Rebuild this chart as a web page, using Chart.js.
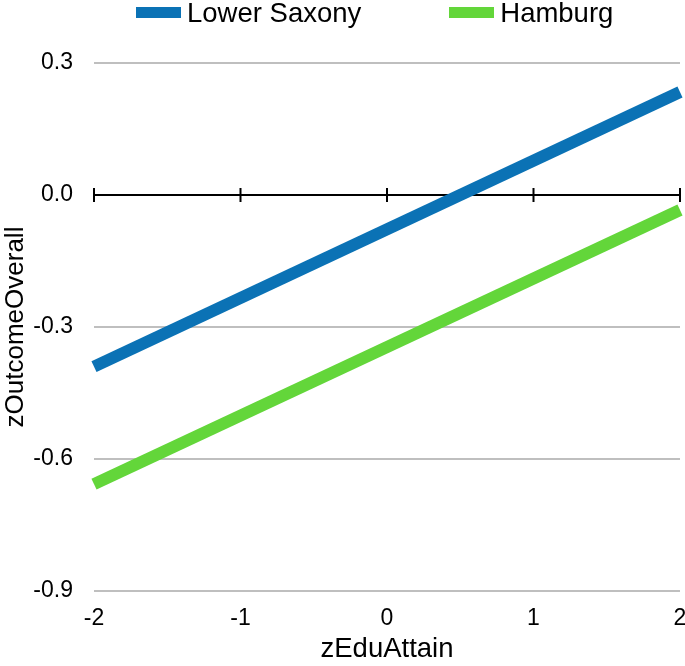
<!DOCTYPE html>
<html>
<head>
<meta charset="utf-8">
<script src="https://cdn.jsdelivr.net/npm/chart.js@4.4.0/dist/chart.umd.min.js"></script>
<style>
  body { margin: 0; background: #fff; font-family: "Liberation Sans", Arial, sans-serif; }
  #wrap { position: relative; width: 685px; height: 666px; }
  #legend { position: absolute; top: 0; left: 0; width: 685px; height: 25px; display: flex; align-items: center; padding-left: 136px; box-sizing: border-box; }
  .item { display: flex; align-items: center; font-size: 27.5px; color: #000; }
  .item + .item { margin-left: 88px; }
  .swatch { width: 45px; height: 11px; margin-right: 6px; }
  canvas { position: absolute; top: 0; left: 0; }
</style>
</head>
<body>
<div id="wrap">
  <canvas id="chart" width="685" height="666"></canvas>
  <div id="legend"></div>
</div>
<script>
// data
const xValues = [-2, 2];
const lowerSaxony = [-0.39, 0.234];
const hamburg = [-0.657, -0.034];
const seriesNames = ['Lower Saxony', 'Hamburg'];
const seriesColors = ['#0B72B5', '#63D63A'];
const yTicks = [-0.9, -0.6, -0.3, 0.0, 0.3];
const xTicks = [-2, -1, 0, 1, 2];

const seriesValues = [lowerSaxony, hamburg];

// html legend (keeps the swatch/text spacing of the original)
const legendEl = document.getElementById('legend');
seriesNames.forEach((name, i) => {
    const item = document.createElement('div');
    item.className = 'item';
    item.innerHTML = `<span class="swatch" style="background:${seriesColors[i]}"></span><span>${name}</span>`;
    legendEl.appendChild(item);
});

// black axis at y=0 with crossing tick marks
const zeroAxis = {
    id: 'zeroAxis',
    beforeDatasetsDraw(chart) {
        const { ctx, scales: { x, y } } = chart;
        const y0 = y.getPixelForValue(0);
        ctx.save();
        ctx.strokeStyle = '#000';
        ctx.lineWidth = 2;
        ctx.beginPath();
        ctx.moveTo(x.left, y0);
        ctx.lineTo(x.right, y0);
        xTicks.forEach(v => {
            const px = x.getPixelForValue(v);
            ctx.moveTo(px, y0 - 7);
            ctx.lineTo(px, y0 + 7);
        });
        ctx.stroke();
        ctx.restore();
    }
};

Chart.defaults.font.family = '"Liberation Sans", Arial, sans-serif';
Chart.defaults.color = '#000';

new Chart(document.getElementById('chart'), {
    type: 'line',
    data: {
        datasets: seriesNames.map((name, i) => ({
            label: name,
            data: xValues.map((x, j) => ({ x, y: seriesValues[i][j] })),
            borderColor: seriesColors[i],
            borderWidth: 12,
            borderCapStyle: 'butt',
            pointRadius: 0,
            fill: false,
            clip: false
        }))
    },
    options: {
        responsive: false,
        animation: false,
        layout: { padding: { top: 63, right: 0, left: 0, bottom: 0 } },
        plugins: { legend: { display: false }, tooltip: { enabled: false } },
        scales: {
            x: {
                type: 'linear',
                min: -2, max: 2,
                afterBuildTicks: (s) => { s.ticks = xTicks.map(v => ({ value: v })); },
                afterFit: (s) => { s.height = 75; s.paddingLeft = 0; s.paddingRight = 5; },
                ticks: { font: { size: 23 }, color: '#000', padding: 6, callback: v => String(v) },
                grid: { display: false },
                border: { display: false },
                title: { display: true, text: 'zEduAttain', font: { size: 27.5 }, color: '#000', padding: { top: 0, bottom: 0 } }
            },
            y: {
                min: -0.9, max: 0.3,
                afterBuildTicks: (s) => { s.ticks = yTicks.map(v => ({ value: v })); },
                afterFit: (s) => { s.width = 94; },
                ticks: { font: { size: 23 }, color: '#000', padding: 21, callback: v => v.toFixed(1) },
                grid: {
                    color: c => (c.tick && Math.abs(c.tick.value) < 1e-9) ? 'rgba(0,0,0,0)' : '#BFBFBF',
                    lineWidth: 2,
                    drawTicks: false
                },
                border: { display: false },
                title: { display: true, text: 'zOutcomeOverall', font: { size: 26 }, color: '#000', padding: { top: 0, bottom: 0 } }
            }
        }
    },
    plugins: [zeroAxis]
});
</script>
</body>
</html>
